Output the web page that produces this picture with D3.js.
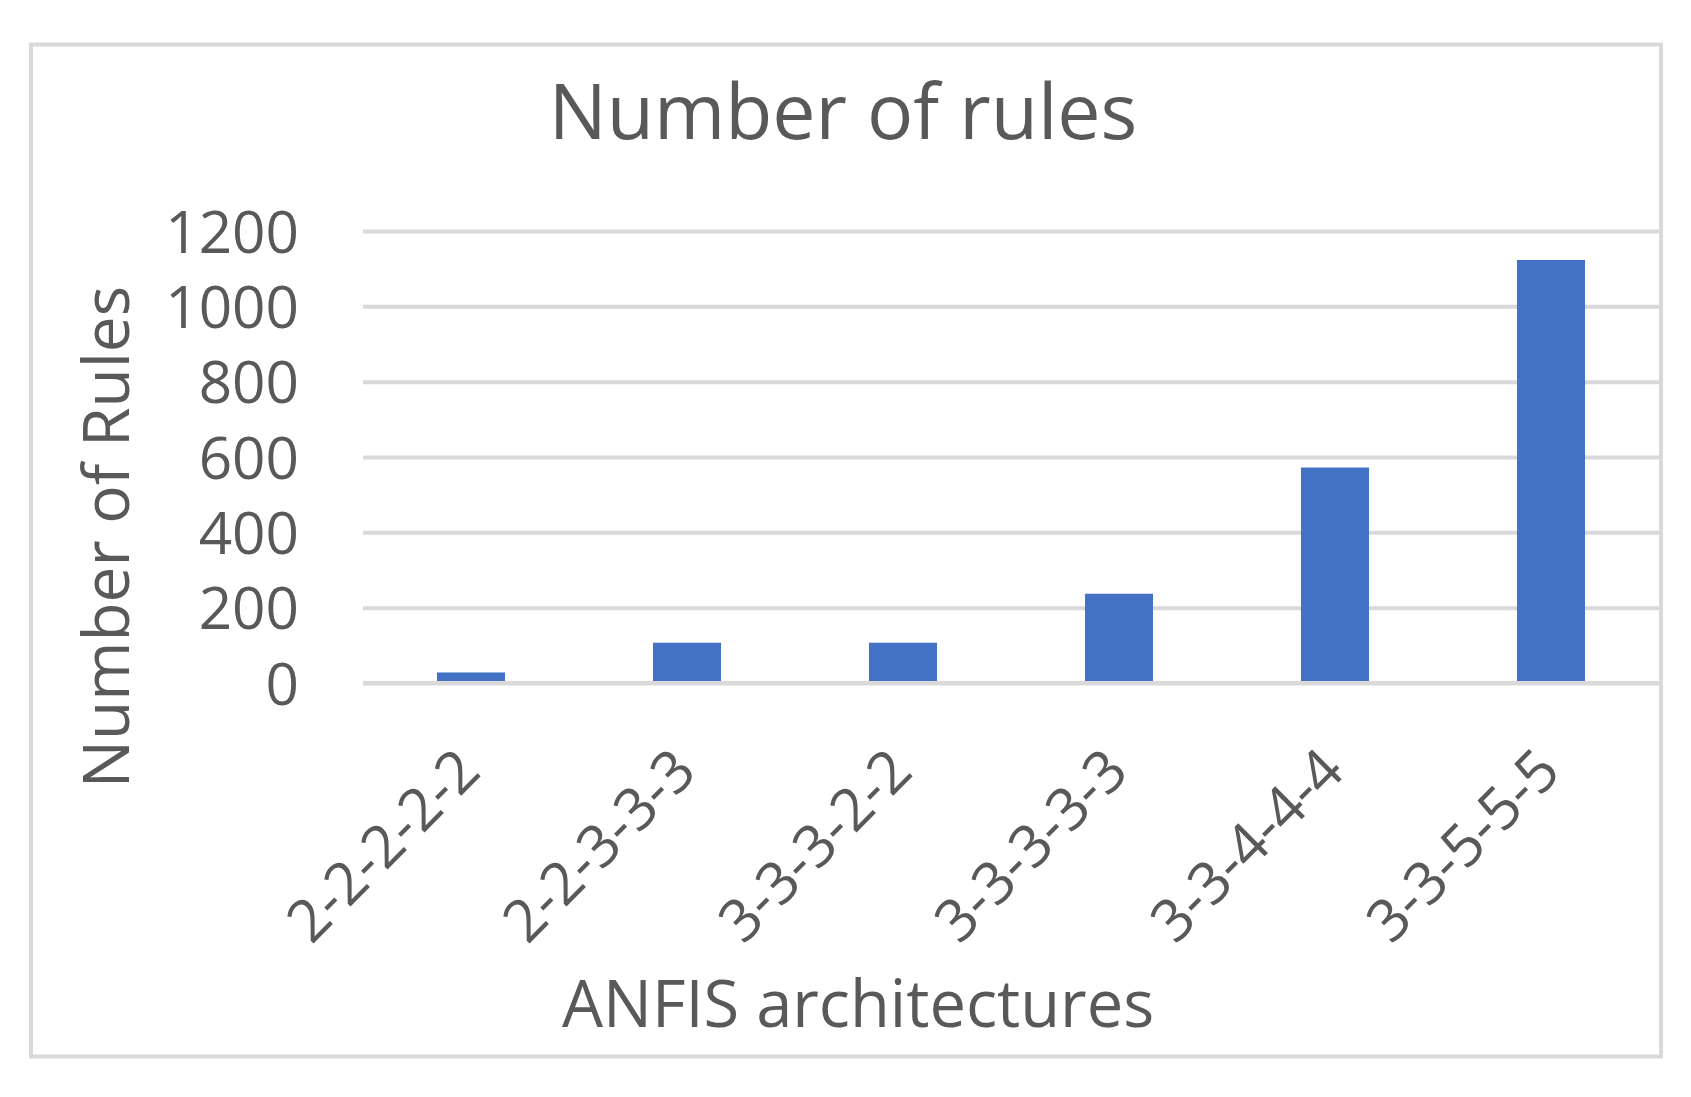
<!DOCTYPE html>
<html>
<head>
<meta charset="utf-8">
<script src="https://cdn.jsdelivr.net/npm/d3@7"></script>
<style>
    body { margin: 0; background: #fff; }
    text { font-family: "Open Sans", sans-serif; fill: #595959; }
</style>
</head>
<body>
<div id="chart"></div>
<script>
// chart data
const categories = ["2-2-2-2-2", "2-2-3-3-3", "3-3-3-2-2", "3-3-3-3-3", "3-3-4-4-4", "3-3-5-5-5"];
const rules = [28, 107, 107, 237, 572, 1123];
const yTicks = [0, 200, 400, 600, 800, 1000, 1200];

const chartTitle = "Number of rules";
const xTitle = "ANFIS architectures";
const yTitle = "Number of Rules";

let width = 1691, height = 1097;
let margin = {top: 231, right: 32, bottom: 414, left: 363};

let svg = d3.select("#chart").append("svg")
    .attr("width", width)
    .attr("height", height);

// outer border of the chart
svg.append("rect")
    .attr("x", 31)
    .attr("y", 44.5)
    .attr("width", 1630)
    .attr("height", 1012)
    .attr("fill", "none")
    .attr("stroke", "#d9d9d9")
    .attr("stroke-width", 4);

let x = d3.scaleBand()
    .domain(categories)
    .range([margin.left, width - margin.right])
    .paddingInner(0.685)
    .paddingOuter(0.3425);

let y = d3.scaleLinear()
    .domain([0, d3.max(yTicks)])
    .range([height - margin.bottom, margin.top]);

// gridlines + tick labels
let yAxis = svg.append("g")
    .attr("transform", `translate(${margin.left}, 0)`)
    .call(d3.axisLeft(y)
        .tickValues(yTicks)
        .tickSize(-(width - margin.right - margin.left))
        .tickPadding(64)
        .tickFormat(d3.format("d")));

yAxis.select(".domain").remove();
yAxis.selectAll(".tick line")
    .attr("stroke", "#d9d9d9")
    .attr("stroke-width", 4);
yAxis.selectAll(".tick text")
    .attr("font-size", 58.5)
    .attr("dy", "0.36em")
    .style("fill", "#595959")
    .style("font-family", "'Open Sans', sans-serif");

// bars
svg.selectAll(".bar")
    .data(rules)
    .enter()
    .append("rect")
    .attr("class", "bar")
    .attr("x", (d, i) => x(categories[i]))
    .attr("y", d => y(d))
    .attr("width", x.bandwidth())
    .attr("height", d => y(0) - y(d))
    .attr("fill", "#4472c4");

// horizontal axis line sits above the bars
svg.append("line")
    .attr("x1", margin.left)
    .attr("x2", width - margin.right)
    .attr("y1", y(0))
    .attr("y2", y(0))
    .attr("stroke", "#d9d9d9")
    .attr("stroke-width", 4);

// category labels, rotated
svg.selectAll(".xlabel")
    .data(categories)
    .enter()
    .append("text")
    .attr("class", "xlabel")
    .attr("text-anchor", "end")
    .attr("font-size", 58.5)
    .attr("transform", d => `translate(${x(d) + x.bandwidth() / 2 + 12}, ${y(0) + 91}) rotate(-45)`)
    .text(d => d);

// titles
svg.append("text")
    .attr("x", 843)
    .attr("y", 139)
    .attr("text-anchor", "middle")
    .attr("font-size", 77)
    .text(chartTitle);

svg.append("text")
    .attr("x", 858)
    .attr("y", 1027)
    .attr("text-anchor", "middle")
    .attr("font-size", 65)
    .text(xTitle);

svg.append("text")
    .attr("transform", "translate(129, 537) rotate(-90)")
    .attr("text-anchor", "middle")
    .attr("font-size", 64)
    .text(yTitle);
</script>
</body>
</html>
